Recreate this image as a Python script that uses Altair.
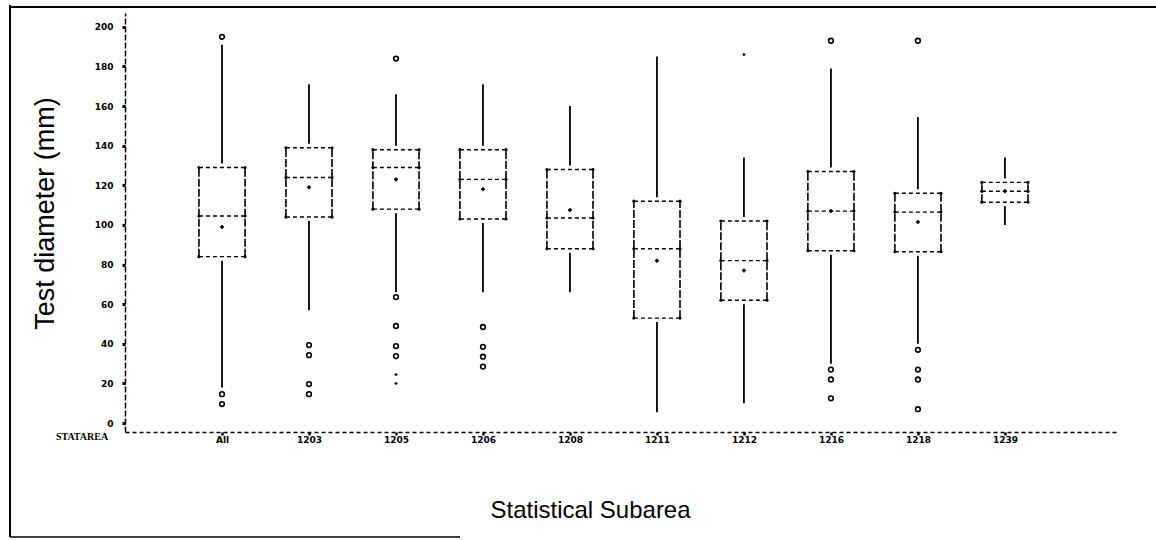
import json
import altair as alt
import pandas as pd

# ---- data ----
cats = ["All", "1203", "1205", "1206", "1208", "1211", "1212", "1216", "1218", "1239"]
whisk_hi = [191, 171, 166, 171, 160, 185, 134, 179, 154.5, 134]
q3 = [129, 139, 138, 138, 128, 112, 102, 127, 116, 121.5]
median = [104.5, 124, 129, 123, 103.5, 88, 82, 107, 106.5, 117]
mean = [99, 119, 123, 118, 107.5, 82, 77, 107, 101.5, 117]
q1 = [84, 104, 108, 103, 88, 53, 62, 87, 86.5, 111.5]
whisk_lo = [18, 57, 66, 66, 66, 5.5, 10, 30, 40, 100]

out_cat = ["All", "All", "All",
           "1203", "1203", "1203", "1203",
           "1205", "1205", "1205", "1205", "1205",
           "1206", "1206", "1206", "1206",
           "1216", "1216", "1216", "1216",
           "1218", "1218", "1218", "1218", "1218"]
out_val = [195, 14.6, 9.6,
           39.4, 34.3, 19.7, 14.6,
           184, 63.6, 49, 38.9, 33.8,
           48.5, 38.5, 33.5, 28.5,
           193, 27, 22, 12.5,
           193, 37, 27, 22, 7]

minor_cat = ["1205", "1205", "1212"]
minor_val = [24.5, 20, 186]

y_ticks = [0, 20, 40, 60, 80, 100, 120, 140, 160, 180, 200]
corner_label = ["STATAREA"]

# ---- tables ----
idx_of = {c: i + 1 for i, c in enumerate(cats)}
box = pd.DataFrame({"cat": cats, "idx": [idx_of[c] for c in cats], "whi": whisk_hi,
                    "q3": q3, "med": median, "mean": mean, "q1": q1, "wlo": whisk_lo})
outl = pd.DataFrame({"cat": out_cat, "idx": [idx_of[c] for c in out_cat], "v": out_val})
minor = pd.DataFrame({"cat": minor_cat, "idx": [idx_of[c] for c in minor_cat], "v": minor_val})
lab = pd.DataFrame({"t": corner_label})

HW = 0.265
xs = alt.Scale(domain=[-0.115, 11.3], nice=False, zero=False)
ys = alt.Scale(domain=[-4.5, 207], nice=False, zero=False)

label_expr = "%s[datum.value - 1]" % json.dumps(cats)

x_axis = alt.Axis(values=list(range(1, len(cats) + 1)), labelExpr=label_expr,
                  domainDash=[4, 3], domainColor="black", domainWidth=1.5,
                  ticks=True, tickSize=3, tickWidth=2.5, tickColor="black",
                  labelFont="DejaVu Sans", labelFontSize=9, labelFontWeight="bold",
                  labelColor="black", labelPadding=0, grid=False,
                  title="Statistical Subarea", titleFont="Liberation Sans",
                  titleFontSize=24, titleFontWeight="normal", titleColor="black",
                  titleX=465, titleY=78, titleBaseline="middle", titleAlign="center")
y_axis = alt.Axis(values=y_ticks, domainDash=[6, 2], domainColor="black", domainWidth=1.5,
                  ticks=True, tickSize=3, tickWidth=3, tickColor="black",
                  labelFont="DejaVu Sans", labelFontSize=9, labelFontWeight="bold",
                  labelColor="black", labelPadding=9, grid=False,
                  title="Test diameter (mm)", titleFont="Liberation Sans",
                  titleFontSize=27, titleFontWeight="normal", titleColor="black",
                  titleX=-80, titleY=200, titleBaseline="middle", titleAlign="center",
                  titleAngle=270)


def X(f):
    return alt.X(f, scale=xs, axis=x_axis, title="Statistical Subarea")


def Y(f):
    return alt.Y(f, scale=ys, axis=y_axis, title="Test diameter (mm)")


base = alt.Chart(box).transform_calculate(left=f"datum.idx - {HW}", right=f"datum.idx + {HW}")

whisk_up = base.mark_rule(color="black", strokeWidth=1.8, yOffset=-4).encode(
    x=X("idx:Q"), y=Y("q3:Q"), y2="whi:Q")
whisk_dn = base.mark_rule(color="black", strokeWidth=1.8, yOffset=4).encode(
    x=X("idx:Q"), y=Y("q1:Q"), y2="wlo:Q")

hlines = base.transform_fold(["q1", "q3", "med"], as_=["k", "yv"]).mark_rule(
    color="black", strokeWidth=1.4, strokeDash=[4, 3]).encode(
    x=X("left:Q"), x2="right:Q", y=Y("yv:Q"))

vl = base.mark_rule(color="black", strokeWidth=1.6, strokeDash=[8, 2]).encode(
    x=X("left:Q"), y=Y("q1:Q"), y2="q3:Q")
vr = base.mark_rule(color="black", strokeWidth=1.6, strokeDash=[8, 2]).encode(
    x=X("right:Q"), y=Y("q1:Q"), y2="q3:Q")

dots_l = base.transform_fold(["q1", "q3", "med"], as_=["k", "yv"]).mark_circle(
    color="black", size=10, opacity=1).encode(x=X("left:Q"), y=Y("yv:Q"))
dots_r = base.transform_fold(["q1", "q3", "med"], as_=["k", "yv"]).mark_circle(
    color="black", size=10, opacity=1).encode(x=X("right:Q"), y=Y("yv:Q"))

means = base.mark_point(shape="cross", filled=True, size=16, color="black", opacity=1).encode(
    x=X("idx:Q"), y=Y("mean:Q"))

outs = alt.Chart(outl).mark_point(shape="circle", filled=False, size=22, strokeWidth=1.6,
                                  color="black", opacity=1).encode(
    x=X("idx:Q"), y=Y("v:Q"))

minors = alt.Chart(minor).mark_point(shape="cross", filled=True, size=9, color="black",
                                     opacity=1).encode(
    x=X("idx:Q"), y=Y("v:Q"))

stat_lab = alt.Chart(lab).mark_text(font="Liberation Serif", fontWeight="bold", fontSize=10,
                                    color="black", align="center", baseline="middle").encode(
    text="t:N", x=alt.value(-43), y=alt.value(424))

frame_df = pd.DataFrame({"k": [0]})
frame_l = alt.Chart(frame_df).mark_rule(color="black", strokeWidth=2).encode(
    x=alt.value(-115), y=alt.value(-8), y2=alt.value(524))
frame_t = alt.Chart(frame_df).mark_rule(color="black", strokeWidth=2).encode(
    x=alt.value(-115), x2=alt.value(1031), y=alt.value(-6))
frame_b = alt.Chart(frame_df).mark_rule(color="black", strokeWidth=1.5).encode(
    x=alt.value(-115), x2=alt.value(335), y=alt.value(524))

chart = alt.layer(
    whisk_up, whisk_dn, hlines, vl, vr, dots_l, dots_r, means, outs, minors,
    stat_lab, frame_l, frame_t, frame_b
).properties(
    width=993, height=419,
    padding={"left": 125, "top": 13, "right": 38, "bottom": 108},
    autosize=alt.AutoSizeParams(type="none"),
    background="white",
).configure_view(strokeOpacity=0)

chart.save("out.html", embed_options={"renderer": "svg", "actions": False})
